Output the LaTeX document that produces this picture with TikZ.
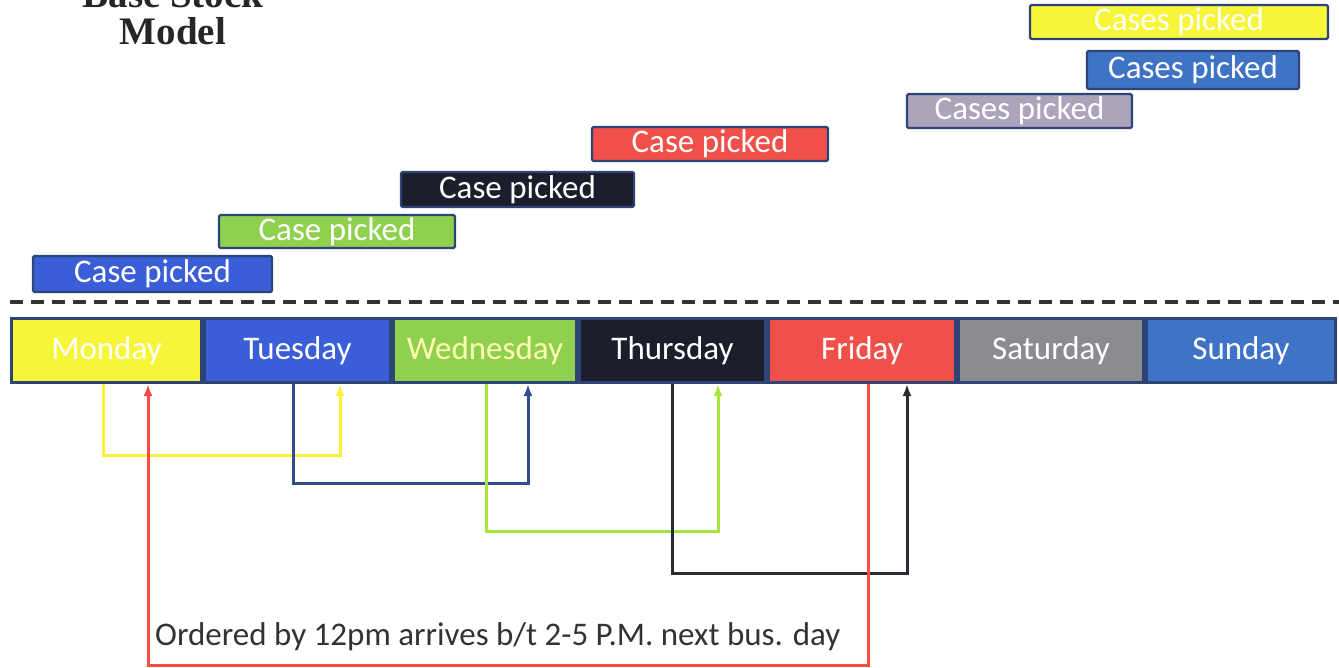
\documentclass[tikz,border=0pt]{standalone}
\usepackage{fontspec}
\setmainfont{Carlito}
\newfontfamily\titlefont{Liberation Serif}
\usetikzlibrary{arrows.meta}
\definecolor{NavyEdge}{HTML}{2E4476}
\definecolor{DayYellow}{HTML}{F7F53A}
\definecolor{DayBlue}{HTML}{3A5DD8}
\definecolor{DayGreen}{HTML}{8FD14F}
\definecolor{DayBlack}{HTML}{1C1F2B}
\definecolor{DayRed}{HTML}{EF5049}
\definecolor{DayGray}{HTML}{8B8B92}
\definecolor{SunBlue}{HTML}{3E73C6}
\definecolor{PickGray}{HTML}{ABA4BA}
\definecolor{LineYellow}{HTML}{FAF03A}
\definecolor{LineBlue}{HTML}{2F4D8C}
\definecolor{LineGreen}{HTML}{A8E43E}
\definecolor{LineBlack}{HTML}{2A2B33}
\definecolor{LineRed}{HTML}{FF4A44}

\tikzset{
  daybox/.style={draw=NavyEdge, line width=3pt, minimum height=64pt, inner sep=0pt,
    text=white, font=\fontsize{33}{38}\selectfont},
  pickbox/.style={draw=NavyEdge, line width=2.2pt, rounded corners=1.5pt, inner sep=0pt,
    text=white, font=\fontsize{33}{38}\selectfont},
  orderline/.style={line width=3pt, -{Latex[length=12pt,width=9pt]}}
}

\begin{document}
\begin{tikzpicture}[x=1pt,y=1pt,yscale=-1,xscale=1]
		\useasboundingbox (0,0) rectangle (1339,668);

		% Title, its first line runs off the top
		\node[font=\titlefont\bfseries\fontsize{39}{37}\selectfont, text=black!85, align=center, anchor=base] (title) at (173,45) {Base Stock\\Model};

		% Boxes for the cases picked, one per day
		\node[pickbox, fill=DayBlue, minimum width=239pt, minimum height=36pt] (pick1) at (152.5,274) {Case picked};
		\node[pickbox, fill=DayGreen, minimum width=236pt, minimum height=33pt] (pick2) at (337,231.5) {Case picked};
		\node[pickbox, fill=DayBlack, minimum width=233pt, minimum height=35pt] (pick3) at (517.5,189.5) {Case picked};
		\node[pickbox, fill=DayRed, minimum width=236pt, minimum height=34pt] (pick4) at (710,144) {Case picked};
		\node[pickbox, fill=PickGray, minimum width=225pt, minimum height=34pt] (pick5) at (1019.5,111) {Cases picked};
		\node[pickbox, fill=SunBlue, minimum width=212pt, minimum height=38pt] (pick6) at (1193,70) {Cases picked};
		\node[pickbox, fill=DayYellow, minimum width=298pt, minimum height=34pt] (pick7) at (1179,22) {Cases picked};

		% Dashed divider
		\coordinate (divL) at (10,302);
		\coordinate (divR) at (1339,302);
		\draw[line width=4pt, black!80, dash pattern=on 13pt off 8pt] (divL) -- (divR);

		% Days of the week
		\node[daybox, fill=DayYellow, minimum width=190pt] (mon) at (106.5,350.5) {Monday};
		\node[daybox, fill=DayBlue, minimum width=186pt] (tue) at (297.5,350.5) {Tuesday};
		\node[daybox, fill=DayGreen, text=yellow!30, minimum width=183pt] (wed) at (485,350.5) {Wednesday};
		\node[daybox, fill=DayBlack, minimum width=186pt] (thu) at (672.5,350.5) {Thursday};
		\node[daybox, fill=DayRed, minimum width=187pt] (fri) at (862,350.5) {Friday};
		\node[daybox, fill=DayGray, minimum width=185pt] (sat) at (1051,350.5) {Saturday};
		\node[daybox, fill=SunBlue, minimum width=189pt] (sun) at (1241,350.5) {Sunday};

		% Order placed one day, arrives the next
		\draw[orderline, LineYellow] ([xshift=-3.5pt]mon.south) -- ++(0,71) -| ([xshift=42.5pt]tue.south);
		\draw[orderline, LineBlue] ([xshift=-4.5pt]tue.south) -- ++(0,99) -| ([xshift=43pt]wed.south);
		\draw[orderline, LineGreen] ([xshift=1pt]wed.south) -- ++(0,147) -| ([xshift=45.5pt]thu.south);
		\draw[orderline, LineBlack] ([xshift=-0.5pt]thu.south) -- ++(0,189) -| ([xshift=45pt]fri.south);
		\draw[orderline, LineRed] ([xshift=6pt]fri.south) -- ++(0,281) -| ([xshift=41.5pt]mon.south);

		% Note above the red return line
		\node[font=\fontsize{33}{38}\selectfont, text=black!80, anchor=west, inner sep=0pt] (note) at (155,637) {Ordered by 12pm arrives b/t 2-5 P.M. next bus. day};
\end{tikzpicture}
\end{document}
